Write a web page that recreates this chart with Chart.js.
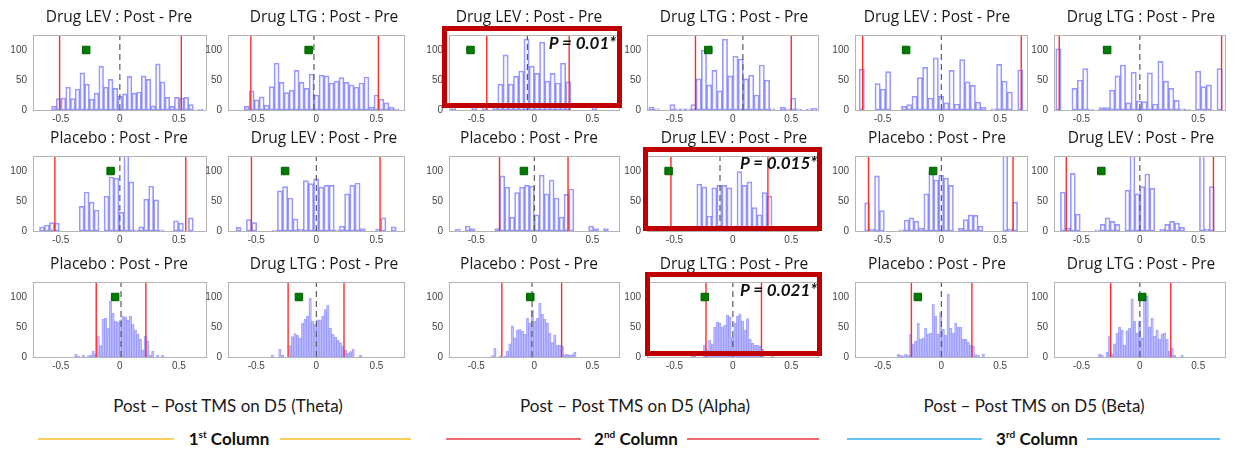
<!DOCTYPE html>
<html>
<head>
<meta charset="utf-8">
<script src="https://cdn.jsdelivr.net/npm/chart.js@4.4.0/dist/chart.umd.min.js"></script>
<style>
  body { margin: 0; background: #fff; width: 1236px; height: 450px; position: relative; overflow: hidden; font-family: Lato, 'Open Sans', sans-serif; }
  canvas { position: absolute; }
  .ttl { position: absolute; font-family: 'Open Sans', sans-serif; font-size: 15.5px; color: #1a1a1a; white-space: nowrap; transform: translate(-50%, -50%); z-index: 3; }
  .frame { position: absolute; border: 5px solid #C00000; box-sizing: border-box; z-index: 4; }
  .pval { position: absolute; font-size: 17px; font-weight: 700; font-style: italic; color: #111; white-space: nowrap; transform: translate(-100%, -50%); z-index: 5; }
  .band { position: absolute; font-size: 17px; color: #1a1a1a; white-space: nowrap; transform: translate(-50%, -50%); }
  .col { position: absolute; font-size: 17px; font-weight: 700; color: #111; white-space: nowrap; transform: translate(-50%, -50%); }
  .col sup { font-size: 10px; }
  .rule { position: absolute; height: 2px; }
</style>
</head>
<body>
<script>
// panels go row by row, left to right (cols 1-2 theta, 3-4 alpha, 5-6 beta)
const panelTitles = [
  'Drug LEV : Post - Pre', 'Drug LTG : Post - Pre', 'Drug LEV : Post - Pre', 'Drug LTG : Post - Pre', 'Drug LEV : Post - Pre', 'Drug LTG : Post - Pre',
  'Placebo : Post - Pre', 'Drug LEV : Post - Pre', 'Placebo : Post - Pre', 'Drug LEV : Post - Pre', 'Placebo : Post - Pre', 'Drug LEV : Post - Pre',
  'Placebo : Post - Pre', 'Drug LTG : Post - Pre', 'Placebo : Post - Pre', 'Drug LTG : Post - Pre', 'Placebo : Post - Pre', 'Drug LTG : Post - Pre'
];

const binStart = [-0.578, -0.60, -0.72, -0.72, -0.70, -0.72,
                  -0.68, -0.668, -0.68, -0.696, -0.653, -0.68,
                  -0.383, -0.377, -0.372, -0.36, -0.378, -0.355];
const binWidth = [0.040, 0.0415, 0.045, 0.045, 0.045, 0.046,
                  0.042, 0.043, 0.0425, 0.043, 0.042, 0.0425,
                  0.021, 0.021, 0.0215, 0.0216, 0.0213, 0.0214];

// histogram counts
const countsR1C1 = [6,19,20,38,19,35,62,43,18,28,73,38,51,36,23,27,56,28,30,57,51,7,77,47,21,6,21,20,21,9,0,1];
const countsR1C2 = [6,32,17,22,8,39,78,46,29,33,66,46,36,60,25,58,57,45,48,54,46,42,38,45,55,5,25,18,12,5,2];
const countsR1C3 = [8,0,0,0,7,0,7,0,5,43,92,43,56,65,118,73,61,113,48,61,45,78,47,0,0,0,0,8];
const countsR1C4 = [5,2,0,0,9,2,2,2,9,52,100,42,66,32,118,57,90,85,52,58,25,75,50,2,0,5,2,20,2,0,2,3];
const countsR1C5 = [68,0,0,44,35,64,0,0,6,9,23,54,71,20,87,23,12,66,10,84,47,41,13,5,0,2,76,48,30,0,67];
const countsR1C6 = [102,0,0,36,50,69,1,0,4,4,33,57,75,12,63,15,14,62,10,81,48,36,16,2,1,0,65,39,42,0,69];
const countsR2C1 = [7,10,14,13,0,0,0,0,41,65,48,35,0,58,90,88,31,140,82,2,7,53,75,52,2,0,0,17,13,0,22];
const countsR2C2 = [6,0,19,14,0,0,0,1,67,74,55,20,3,84,79,87,73,76,76,2,8,62,76,80,4,0,0,3,22,0,7];
const countsR2C3 = [3,0,8,4,0,0,0,0,4,92,73,23,64,73,76,75,27,93,62,85,55,23,61,70,0,0,0,8,4,0,4];
const countsR2C4 = [2,0,3,7,0,0,0,0,0,78,73,25,72,76,76,72,8,99,76,82,39,27,64,58,0,0,0,0,5,0,0,5];
const countsR2C5 = [47,3,92,34,0,0,0,2,18,22,16,5,62,100,85,93,88,76,0,5,19,27,26,8,0,0,0,0,200,3,48];
const countsR2C6 = [65,5,96,28,0,0,0,2,11,22,16,11,0,68,130,62,74,95,71,0,3,11,16,13,6,0,0,0,130,3,74];
const countsR3C1 = [5,2,0,3,0,2,3,10,5,35,19,63,65,48,93,73,60,58,62,68,67,61,68,55,45,38,30,12,35,27,3,10,0,3,0,3];
const countsR3C2 = [3,0,0,13,3,0,0,19,34,39,36,31,56,63,68,98,60,55,62,62,68,79,86,48,38,33,28,24,18,11,6,9,13,0,0,3];
const countsR3C3 = [2,15,0,2,0,2,10,22,52,32,45,46,43,38,65,57,78,60,65,90,71,63,57,40,24,37,20,20,18,4,5,3,4,8];
const countsR3C4 = [3,5,0,0,0,20,12,28,22,50,58,57,50,53,70,67,33,57,68,72,60,45,64,30,23,20,20,18,13,0,0,0,5];
const countsR3C5 = [5,3,2,5,3,38,22,27,56,30,32,48,38,40,88,68,38,74,46,36,105,48,40,56,50,50,30,30,25,20,18,4,3,0,5];
const countsR3C6 = [5,3,0,8,35,5,22,40,50,45,20,44,48,97,60,40,60,32,100,102,50,65,35,45,30,38,40,30,10,15,3,0,0,3];

const counts = [countsR1C1, countsR1C2, countsR1C3, countsR1C4, countsR1C5, countsR1C6,
                countsR2C1, countsR2C2, countsR2C3, countsR2C4, countsR2C5, countsR2C6,
                countsR3C1, countsR3C2, countsR3C3, countsR3C4, countsR3C5, countsR3C6];

// red lines (interval bounds), dashed line, green square
const ciLow    = [-0.51, -0.545, -0.41, -0.32, -0.67, -0.69,  -0.55, -0.54, -0.30, -0.53, -0.62, -0.63,  -0.20, -0.235, -0.28, -0.23, -0.255, -0.25];
const ciHigh   = [0.52, 0.516, 0.30, 0.50, 0.68, 0.70,  0.558, 0.53, 0.29, 0.30, 0.61, 0.63,  0.22, 0.23, 0.235, 0.245, 0.26, 0.265];
const nullMean = [0, -0.02, -0.06, 0.086, 0, 0,  0, 0, 0, -0.11, 0, 0,  0.01, 0, -0.02, 0, 0, 0];
const observed = [-0.285, -0.064, -0.55, -0.21, -0.30, -0.28,  -0.078, -0.26, -0.09, -0.55, -0.07, -0.33,  -0.04, -0.145, -0.035, -0.24, -0.2, 0.02];
const observedY = 100;

const xTicks = [-0.5, 0, 0.5];
const yTicks = [0, 50, 100];
const X_MIN = -0.735, X_MAX = 0.735, Y_MAX = 125;

const sigLabels = ['P = 0.01*', 'P = 0.015*', 'P = 0.021*'];

const bandLabels = ['Post \u2013 Post TMS on D5 (Theta)', 'Post \u2013 Post TMS on D5 (Alpha)', 'Post \u2013 Post TMS on D5 (Beta)'];
const colNums = ['1', '2', '3'];
const colSups = ['st', 'nd', 'rd'];

// layout
const colL = [33, 228, 449, 647, 855, 1054];
const colR = [207, 405, 620, 819, 1028, 1226];
const rowT = [29, 150, 276];
const rowB = [110, 231, 357];
const titleX = [119, 324, 529, 734, 937, 1141];
const titleY = [16, 137, 262.5];
const frames = [[442, 26, 622, 108], [643, 147, 822, 231], [645, 272, 822, 356]];
const pvalPos = [[616, 41.5], [817, 161.5], [817, 288.5]];
const bandX = [228, 635, 1034];
const ruleColors = ['#F9CF5E', '#EC6B70', '#66C2F2'];
const ruleSegs = [[38, 174, 280, 411], [446, 581, 687, 819], [847, 982, 1087, 1220]];
const colTextX = [229, 636, 1037];

const boxFrame = {
  id: 'boxFrame',
  afterDraw(chart) {
    const a = chart.chartArea, ctx = chart.ctx;
    ctx.save();
    ctx.strokeStyle = '#b4b4b4';
    ctx.lineWidth = 1;
    ctx.strokeRect(Math.round(a.left) + 0.5, Math.round(a.top) + 0.5, Math.round(a.right - a.left) - 1, Math.round(a.bottom - a.top));
    ctx.restore();
  }
};

const tickFont = { family: "'Liberation Sans', Arial, sans-serif", size: 10 };

function addDiv(cls, html, x, y) {
  const d = document.createElement('div');
  d.className = cls;
  d.innerHTML = html;
  d.style.left = x + 'px';
  d.style.top = y + 'px';
  document.body.appendChild(d);
  return d;
}

for (let p = 0; p < 18; p++) {
  const r = Math.floor(p / 6), c = p % 6;
  const L = colL[c], R = colR[c], T = rowT[r], B = rowB[r];
  const padL = 40, padT = 6, padR = 6, padB = 22;

  const cv = document.createElement('canvas');
  cv.width = R - L + padL + padR;
  cv.height = B - T + padT + padB;
  cv.style.left = (L - padL) + 'px';
  cv.style.top = (T - padT) + 'px';
  document.body.appendChild(cv);

  const bars = [];
  counts[p].forEach((n, i) => {
    if (n > 0) bars.push({ x: binStart[p] + binWidth[p] * (i + 0.5), y: n });
  });
  const vline = x => [{ x: x, y: 0 }, { x: x, y: Y_MAX }];
  // narrow bins get a lighter edge so they don't turn solid
  const edge = binWidth[p] < 0.03 ? 'rgba(85,85,255,0.5)' : 'rgba(85,85,255,0.62)';

  new Chart(cv, {
    type: 'bar',
    data: {
      datasets: [
        { type: 'line', data: [{ x: observed[p], y: observedY }], showLine: false, pointStyle: 'rect',
          pointRadius: 5.3, backgroundColor: '#007a00', borderColor: '#005f00', borderWidth: 1, order: 0 },
        { type: 'line', data: vline(nullMean[p]), borderColor: '#5a5a5a', borderWidth: 1.2, borderDash: [6, 4], pointRadius: 0, order: 1 },
        { type: 'line', data: vline(ciLow[p]), borderColor: '#ff2a2a', borderWidth: 1.4, pointRadius: 0, order: 1 },
        { type: 'line', data: vline(ciHigh[p]), borderColor: '#ff2a2a', borderWidth: 1.4, pointRadius: 0, order: 1 },
        { type: 'bar', data: bars, backgroundColor: 'rgba(225,225,255,0.12)', borderColor: edge,
          borderWidth: 1, borderSkipped: false, barPercentage: 1, categoryPercentage: 1, order: 5 }
      ]
    },
    options: {
      responsive: false,
      animation: false,
      devicePixelRatio: 1,
      layout: { padding: { left: 0, top: padT, right: padR, bottom: 0 } },
      plugins: { legend: { display: false }, tooltip: { enabled: false } },
      scales: {
        x: {
          type: 'linear', min: X_MIN, max: X_MAX, offset: false,
          grid: { display: false, drawTicks: false }, border: { display: false },
          afterBuildTicks: s => { s.ticks = xTicks.map(v => ({ value: v })); },
          afterFit: s => { s.height = padB; },
          ticks: { padding: 3, color: '#444', font: tickFont, maxRotation: 0, autoSkip: false, callback: v => String(v) }
        },
        y: {
          min: 0, max: Y_MAX,
          grid: { display: false, drawTicks: false }, border: { display: false },
          afterBuildTicks: s => { s.ticks = yTicks.map(v => ({ value: v })); },
          afterFit: s => { s.width = padL; },
          ticks: { padding: 6, color: '#444', font: tickFont, callback: v => String(v) }
        }
      }
    },
    plugins: [boxFrame]
  });

  addDiv('ttl', panelTitles[p], titleX[c], titleY[r]);
}

frames.forEach((f, i) => {
  const d = addDiv('frame', '', f[0], f[1]);
  d.style.width = (f[2] - f[0]) + 'px';
  d.style.height = (f[3] - f[1]) + 'px';
  addDiv('pval', sigLabels[i], pvalPos[i][0], pvalPos[i][1]);
});

bandLabels.forEach((t, i) => {
  addDiv('band', t, bandX[i], 405);
  addDiv('col', colNums[i] + '<sup>' + colSups[i] + '</sup> Column', colTextX[i], 438);
  const s = ruleSegs[i];
  [[s[0], s[1]], [s[2], s[3]]].forEach(seg => {
    const d = addDiv('rule', '', seg[0], 438);
    d.style.width = (seg[1] - seg[0]) + 'px';
    d.style.background = ruleColors[i];
  });
});
</script>
</body>
</html>
